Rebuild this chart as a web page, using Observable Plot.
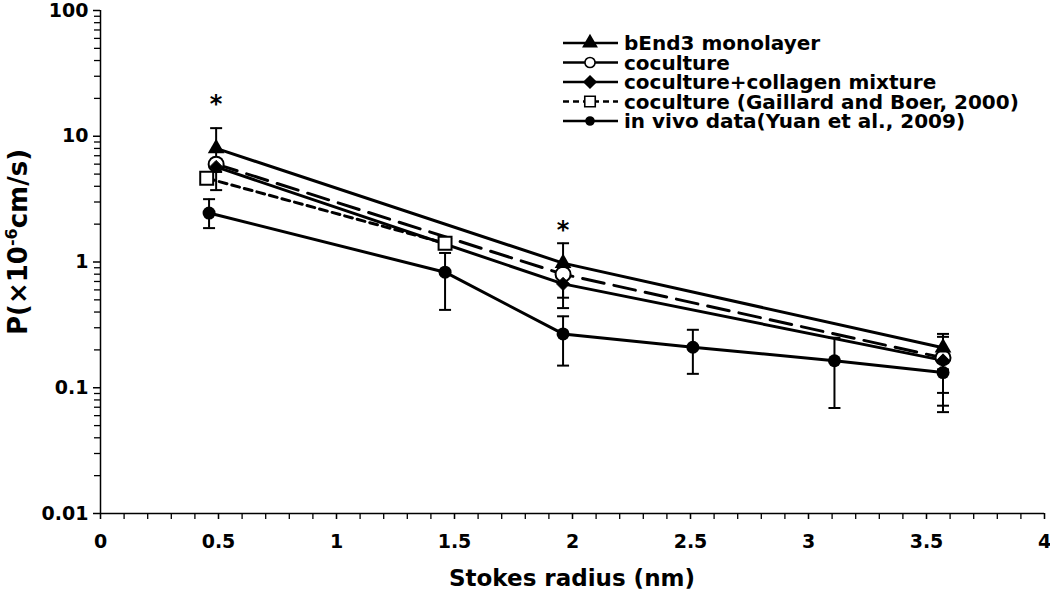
<!DOCTYPE html>
<html><head><meta charset="utf-8">
<script src="https://cdn.jsdelivr.net/npm/d3@7"></script>
<script src="https://cdn.jsdelivr.net/npm/@observablehq/plot@0.6"></script>
<style>
body{margin:0;background:#fff}
#chart{position:relative;width:1050px;height:596px}
</style>
</head><body><div id="chart"></div>
<script>
// ---- data ----
const seriesNames = [
  "bEnd3 monolayer",
  "coculture",
  "coculture+collagen mixture",
  "coculture (Gaillard and Boer, 2000)",
  "in vivo data(Yuan et al., 2009)"
];

const bEnd3X  = [0.49, 1.96, 3.57];
const bEnd3Y  = [8.0, 0.98, 0.208];
const bEnd3Lo = [6.4, 0.82, 0.19];
const bEnd3Hi = [11.6, 1.41, 0.268];

const cocultureX  = [0.49, 1.96, 3.57];
const cocultureY  = [6.0, 0.80, 0.173];
const cocultureLo = [3.73, 0.52, 0.091];
const cocultureHi = [6.6, 0.90, 0.254];

const collagenX  = [0.49, 1.96, 3.57];
const collagenY  = [5.7, 0.67, 0.165];
const collagenLo = [5.2, 0.43, 0.072];
const collagenHi = [6.6, 0.78, 0.19];

const gaillardX = [0.45, 1.46];
const gaillardY = [4.64, 1.41];

const inVivoX  = [0.46, 1.46, 1.96, 2.51, 3.11, 3.57];
const inVivoY  = [2.45, 0.83, 0.268, 0.21, 0.164, 0.132];
const inVivoLo = [1.86, 0.416, 0.15, 0.129, 0.069, 0.064];
const inVivoHi = [3.16, 1.18, 0.37, 0.289, 0.25, 0.14];

const starX = [0.49, 1.96];
const starY = [20, 2.0];

const yMajorTicks = [0.01, 0.1, 1, 10, 100];
const yMajorLabels = ["0.01", "0.1", "1", "10", "100"];
const yMinorTicks = [0.02,0.03,0.04,0.05,0.06,0.07,0.08,0.09,
                     0.2,0.3,0.4,0.5,0.6,0.7,0.8,0.9,
                     2,3,4,5,6,7,8,9,
                     20,30,40,50,60,70,80,90];
const xMajorTicks = [0, 0.5, 1, 1.5, 2, 2.5, 3, 3.5, 4];
const xMajorLabels = ["0", "0.5", "1", "1.5", "2", "2.5", "3", "3.5", "4"];
const xMinorTicks = [0,0.1,0.2,0.3,0.4,0.5,0.6,0.7,0.8,0.9,1,1.1,1.2,1.3,1.4,1.5,1.6,1.7,1.8,1.9,
                     2,2.1,2.2,2.3,2.4,2.5,2.6,2.7,2.8,2.9,3,3.1,3.2,3.3,3.4,3.5,3.6,3.7,3.8,3.9,4];

const xLabel = "Stokes radius (nm)";

// ---- build tables ----
function rows(name, X, Y, Lo, Hi) {
  return X.map((x, i) => ({series: name, x, y: Y[i], lo: Lo ? Lo[i] : Y[i], hi: Hi ? Hi[i] : Y[i]}));
}
const bEnd3 = rows(seriesNames[0], bEnd3X, bEnd3Y, bEnd3Lo, bEnd3Hi);
const cocult = rows(seriesNames[1], cocultureX, cocultureY, cocultureLo, cocultureHi);
const collagen = rows(seriesNames[2], collagenX, collagenY, collagenLo, collagenHi);
const gaillard = rows(seriesNames[3], gaillardX, gaillardY);
const inVivo = rows(seriesNames[4], inVivoX, inVivoY, inVivoLo, inVivoHi);
const errData = [...bEnd3, ...cocult, ...collagen, ...inVivo];
const stars = starX.map((x, i) => ({x, y: starY[i]}));

const capSymbol = {draw(ctx) { ctx.moveTo(-6, 0); ctx.lineTo(6, 0); }};
const FONT = "'DejaVu Sans', 'Liberation Sans', Arial, sans-serif";

const lineOpts = {x: "x", y: "y", stroke: "black", strokeWidth: 3};

const plot = Plot.plot({
  width: 1050,
  height: 596,
  marginLeft: 100,
  marginRight: 6,
  marginTop: 10,
  marginBottom: 83,
  style: {fontFamily: FONT, fontWeight: "bold", fontSize: "19px", color: "black", background: "white"},
  x: {domain: [0, 4]},
  y: {type: "log", domain: [0.01, 100]},
  marks: [
    Plot.axisY({ticks: yMinorTicks, tickSize: 6, tickFormat: () => "", strokeWidth: 1.3, label: null}),
    Plot.axisY({ticks: yMajorTicks, tickSize: 7, tickPadding: 5, strokeWidth: 1.5,
                tickFormat: d => yMajorLabels[yMajorTicks.indexOf(d)], label: null}),
    Plot.axisX({ticks: xMinorTicks, tickSize: 6, tickFormat: () => "", strokeWidth: 1.3, label: null}),
    Plot.axisX({ticks: xMajorTicks, tickSize: 6, tickPadding: 15, strokeWidth: 1.3,
                tickFormat: d => xMajorLabels[xMajorTicks.indexOf(d)], label: null}),
    Plot.ruleX([0], {stroke: "black", strokeWidth: 1.5}),
    Plot.ruleY([0.01], {stroke: "black", strokeWidth: 1.5}),
    // lines
    Plot.line(bEnd3, lineOpts),
    Plot.line(cocult, {...lineOpts, strokeDasharray: "22,10"}),
    Plot.line(collagen, lineOpts),
    Plot.line(gaillard, {...lineOpts, strokeDasharray: "8,5"}),
    Plot.line(inVivo, lineOpts),
    // error bars
    Plot.ruleX(errData.filter(d => d.lo !== d.hi), {x: "x", y1: "lo", y2: "hi", stroke: "black", strokeWidth: 2}),
    Plot.dot(errData.filter(d => d.lo !== d.hi), {x: "x", y: "lo", symbol: capSymbol, stroke: "black", strokeWidth: 2, r: 5}),
    Plot.dot(errData.filter(d => d.lo !== d.hi), {x: "x", y: "hi", symbol: capSymbol, stroke: "black", strokeWidth: 2, r: 5}),
    // markers
    Plot.dot(gaillard, {x: "x", y: "y", symbol: "square", r: 7.3, fill: "white", stroke: "black", strokeWidth: 2}),
    Plot.dot(inVivo, {x: "x", y: "y", symbol: "circle", r: 6.5, fill: "black"}),
    Plot.dot(cocult, {x: "x", y: "y", symbol: "circle", r: 7.5, fill: "white", stroke: "black", strokeWidth: 2}),
    Plot.dot(collagen, {x: "x", y: "y", symbol: "diamond2", r: 5.9, fill: "black", stroke: "black", strokeWidth: 1}),
    Plot.dot(bEnd3, {x: "x", y: "y", symbol: "triangle", r: 6.2, fill: "black"}),
    // significance stars
    Plot.text(stars, {x: "x", y: "y", text: () => "*", fontSize: 24, fontWeight: "bold", dy: 6, fill: "black"})
  ]
});
document.getElementById("chart").appendChild(plot);

// ---- axis titles and legend (real text) ----
const svg = d3.select(plot);
const yt = svg.append("text")
  .attr("transform", "translate(27,242) rotate(-90)")
  .attr("text-anchor", "middle")
  .attr("font-family", FONT).attr("font-weight", "bold").attr("font-size", 26).attr("fill", "black");
yt.append("tspan").text("P(×10");
yt.append("tspan").attr("dy", -10).attr("font-size", 16).text("-6");
yt.append("tspan").attr("dy", 10).text("cm/s)");

svg.append("text")
  .attr("x", 572).attr("y", 586)
  .attr("text-anchor", "middle")
  .attr("font-family", FONT).attr("font-weight", "bold").attr("font-size", 23).attr("fill", "black")
  .text(xLabel);

const legendRows = [
  {dash: null, sym: d3.symbolTriangle, size: 75, fill: "black"},
  {dash: null, sym: d3.symbolCircle, size: 80, fill: "white"},
  {dash: null, sym: d3.symbolDiamond2, size: 90, fill: "black"},
  {dash: "6,4", sym: d3.symbolSquare, size: 110, fill: "white"},
  {dash: null, sym: d3.symbolCircle, size: 50, fill: "black"}
];
const legendY0 = 43, legendStep = 19.5;
const lg = svg.append("g");
legendRows.forEach((r, i) => {
  const y = legendY0 + i * legendStep;
  lg.append("line").attr("x1", 563).attr("x2", 618).attr("y1", y).attr("y2", y)
    .attr("stroke", "black").attr("stroke-width", 2.5).attr("stroke-dasharray", r.dash);
  lg.append("path").attr("d", d3.symbol(r.sym, r.size)())
    .attr("transform", `translate(590,${y})`)
    .attr("fill", r.fill).attr("stroke", "black").attr("stroke-width", 1.6);
  lg.append("text").attr("x", 624).attr("y", y).attr("dy", "0.36em")
    .attr("text-anchor", "start")
    .attr("font-family", FONT).attr("font-weight", "bold").attr("font-size", 20).attr("fill", "black")
    .text(seriesNames[i]);
});
</script>
</body></html>
